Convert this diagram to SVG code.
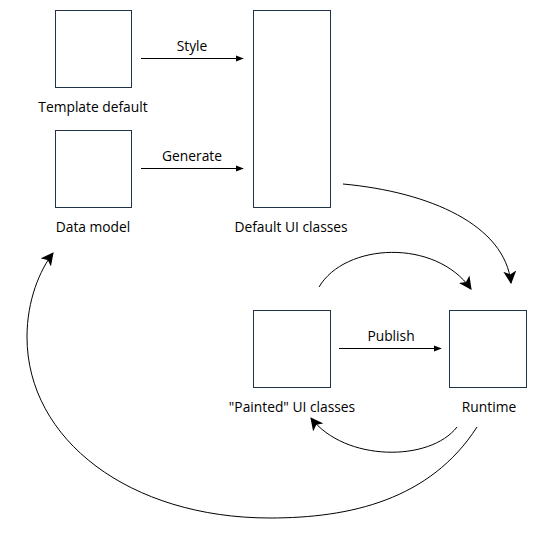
<svg xmlns="http://www.w3.org/2000/svg" width="550" height="535" viewBox="0 0 550 535">
<style>
.box{fill:#fff;stroke:#1f3349;stroke-width:1}
.lbl{font-family:"Open Sans","Noto Sans",sans-serif;font-size:13.8px;fill:#000;text-anchor:middle}
.c{fill:none;stroke:#000;stroke-width:1}
</style>
<defs>
<marker id="ah" viewBox="0 0 10 10" refX="9" refY="5" markerWidth="8" markerHeight="8" markerUnits="userSpaceOnUse" orient="auto">
<path d="M0,1 L10,5 L0,9 z" fill="#000"/>
</marker>
<marker id="ch" viewBox="0 0 12 12" refX="11" refY="6" markerWidth="13" markerHeight="13" markerUnits="userSpaceOnUse" orient="auto">
<path d="M0,0 L12,6 L0,12 L3,6 z" fill="#000"/>
</marker>
</defs>
<rect width="550" height="535" fill="#fff"/>
<g id="template-default">
<rect class="box" x="55.5" y="10.5" width="76" height="77"/>
<text class="lbl" x="93" y="112">Template default</text>
</g>
<g id="data-model">
<rect class="box" x="55.5" y="130.5" width="76" height="77"/>
<text class="lbl" x="93" y="232">Data model</text>
</g>
<g id="default-ui-classes">
<rect class="box" x="253.5" y="10.5" width="77" height="197"/>
<text class="lbl" x="291" y="232">Default UI classes</text>
</g>
<g id="painted-ui-classes">
<rect class="box" x="253.5" y="310.5" width="77" height="77"/>
<text class="lbl" x="292" y="412">"Painted" UI classes</text>
</g>
<g id="runtime">
<rect class="box" x="449.5" y="310.5" width="77" height="77"/>
<text class="lbl" x="489" y="412">Runtime</text>
</g>
<g id="connectors">
<path class="c" d="M141,58.5 L243,58.5" marker-end="url(#ah)"/>
<text class="lbl" x="192" y="51">Style</text>
<path class="c" d="M141,168.5 L243,168.5" marker-end="url(#ah)"/>
<text class="lbl" x="192" y="161">Generate</text>
<path class="c" d="M339,348.5 L441,348.5" marker-end="url(#ah)"/>
<text class="lbl" x="391" y="341">Publish</text>
<path class="c" d="M343,184 C430,192 505,225 511,283" marker-end="url(#ch)"/>
<path class="c" d="M319,287 C345,243 435,238 471,289" marker-end="url(#ch)"/>
<path class="c" d="M457,427 C430,462 345,462 311,418" marker-end="url(#ch)"/>
<path class="c" d="M477,427 C430,500 350,518 270,518 C130,518 27,440 27,337 C27,300 40,270 53,253" marker-end="url(#ch)"/>
</g>
</svg>
